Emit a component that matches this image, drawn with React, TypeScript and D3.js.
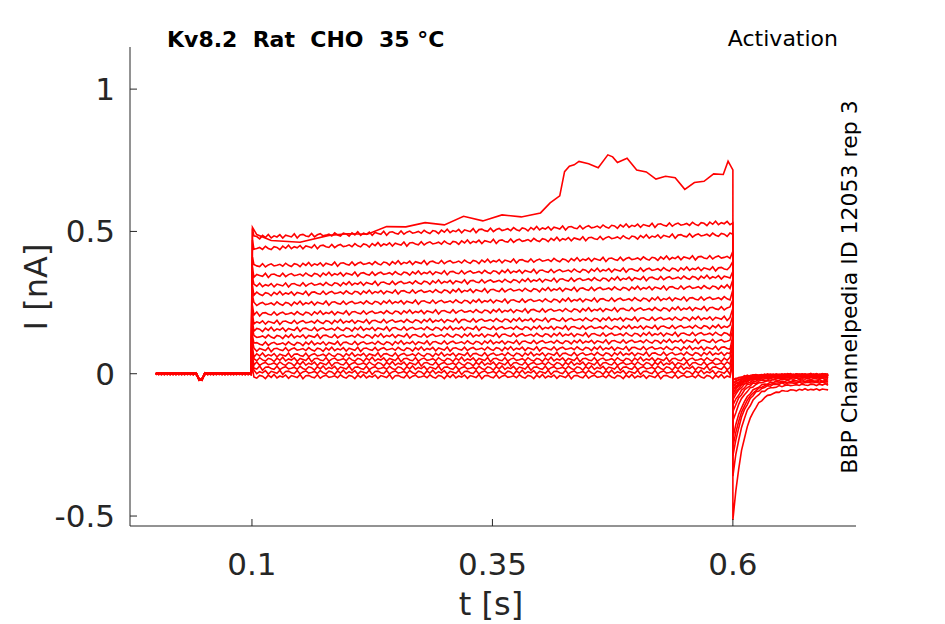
import React from 'react';
import * as d3 from 'd3';

// steady-state current per test step (nA)
const levels = [-0.01, 0.005, 0.02, 0.035, 0.05, 0.065, 0.085, 0.105, 0.13, 0.155, 0.18, 0.21, 0.245, 0.28, 0.31, 0.345, 0.38, 0.44, 0.48];
const drifts = [0, 0, 0, 0, 0, 0.005, 0.005, 0.01, 0.01, 0.01, 0.015, 0.02, 0.02, 0.025, 0.03, 0.025, 0.03, 0.05, 0.05];
const tailPeaks = [-0.02, -0.02, -0.03, -0.03, -0.04, -0.04, -0.05, -0.05, -0.06, -0.06, -0.07, -0.08, -0.1, -0.12, -0.15, -0.2, -0.26, -0.32, -0.46];
const jitter = [0.004, -0.006, 0.009, -0.002, -0.008, 0.006, 0.002, -0.01, 0.007, -0.004, 0.011, -0.007, 0.003, -0.003, 0.008, -0.009, 0.005, 0.0, -0.005, 0.01, -0.011, 0.004, 0.006, -0.002, -0.006, 0.009, -0.008, 0.002, 0.007, -0.004, -0.001];
// the largest trace, read point by point
const topT = [0.1, 0.1005, 0.105, 0.12, 0.15, 0.18, 0.2, 0.22, 0.24, 0.26, 0.28, 0.3, 0.32, 0.34, 0.36, 0.38, 0.4, 0.41, 0.42, 0.425, 0.43, 0.435, 0.44, 0.45, 0.46, 0.47, 0.475, 0.48, 0.49, 0.5, 0.51, 0.52, 0.53, 0.54, 0.55, 0.56, 0.57, 0.58, 0.59, 0.595, 0.6];
const topI = [0.0, 0.52, 0.48, 0.47, 0.47, 0.48, 0.49, 0.5, 0.51, 0.52, 0.52, 0.53, 0.55, 0.54, 0.55, 0.56, 0.56, 0.6, 0.63, 0.7, 0.74, 0.73, 0.74, 0.74, 0.73, 0.76, 0.77, 0.74, 0.75, 0.72, 0.71, 0.68, 0.7, 0.68, 0.65, 0.68, 0.67, 0.7, 0.71, 0.74, 0.72];
const xTicks = [0.1, 0.35, 0.6];
const yTicks = [-0.5, 0, 0.5, 1];

const W = 945, H = 624;
const x = d3.scaleLinear().domain([-0.0268, 0.728]).range([130, 856]);
const y = d3.scaleLinear().domain([-0.535, 1.148]).range([526, 47]);

function trace(k: number) {
  const pts: [number, number][] = [];
  const L = levels[k], D = drifts[k], P = tailPeaks[k];
  let i = k * 7;
  for (let t = 0; t <= 0.7; t += 0.003) {
    const j = jitter[(i++) % jitter.length] * (t > 0.1 && t < 0.6 ? 0.7 : 0.3);
    let v = 0;
    if (t < 0.1) v = t > 0.042 && t < 0.05 ? -0.02 : 0;
    else if (t < 0.6) v = L + D * (t - 0.1) / 0.5;
    else v = P * Math.exp(-(t - 0.6) / 0.012) + Math.min(0, P * 0.12);
    pts.push([t, v + j]);
    if (Math.abs(t - 0.099) < 0.0015) pts.push([0.1005, L + 0.03]);
    if (Math.abs(t - 0.597) < 0.0015) pts.push([0.6, L + 0.05]);
  }
  return pts;
}

export default function App() {
  const line = d3.line<[number, number]>().x(d => x(d[0])).y(d => y(d[1]));
  const top: [number, number][] = [...trace(levels.length - 1).filter(d => d[0] < 0.1), ...topT.map((t, i) => [t, topI[i] + jitter[i % jitter.length]] as [number, number]), ...trace(levels.length - 1).filter(d => d[0] > 0.6).map(d => [d[0], d[1] * 0.5] as [number, number])];
  const font = 'DejaVu Sans, sans-serif';
  return (
    <svg width={W} height={H} style={{ position: 'absolute', left: 0, top: 0 }} fontFamily={font}>
      <rect width={W} height={H} fill="#fff" />
      <g fill="none" stroke="#ff0000" strokeWidth={1.6}>
        {levels.map((_, k) => <path key={k} d={line(trace(k))!} />)}
        <path d={line(top)!} />
      </g>
      <line x1={130} x2={130} y1={47} y2={526} stroke="#262626" />
      <line x1={130} x2={856} y1={526} y2={526} stroke="#262626" />
      {yTicks.map(v => (
        <g key={v}>
          <line x1={130} x2={137} y1={y(v)} y2={y(v)} stroke="#262626" />
          <text x={115} y={y(v)} dy="0.35em" textAnchor="end" fontSize={31} fill="#262626">{String(v)}</text>
        </g>
      ))}
      {xTicks.map(v => (
        <g key={v}>
          <line x1={x(v)} x2={x(v)} y1={526} y2={519} stroke="#262626" />
          <text x={x(v)} y={575} textAnchor="middle" fontSize={31} fill="#262626">{String(v)}</text>
        </g>
      ))}
      <text x={491} y={615} textAnchor="middle" fontSize={32} fill="#262626">t [s]</text>
      <text transform="translate(47,287) rotate(-90)" textAnchor="middle" fontSize={32} fill="#262626">I [nA]</text>
      <text x={167} y={47} fontSize={22} fontWeight="bold" fill="#000" style={{ whiteSpace: 'pre' }}>Kv8.2  Rat  CHO  35 °C</text>
      <text x={838} y={46} textAnchor="end" fontSize={22} fill="#000">Activation</text>
      <text transform="translate(857,287) rotate(-90)" textAnchor="middle" fontSize={22} fill="#000">BBP Channelpedia ID 12053 rep 3</text>
    </svg>
  );
}
